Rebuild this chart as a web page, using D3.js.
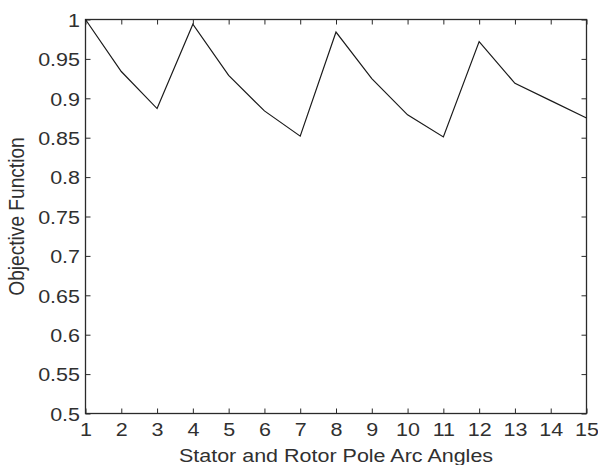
<!DOCTYPE html>
<html><head><meta charset="utf-8">
<script src="https://cdn.jsdelivr.net/npm/d3@7"></script>
<style>html,body{margin:0;padding:0;background:#fff;}svg{display:block;}</style>
</head><body>
<svg id="c" width="598" height="465"></svg>
<script>
const angles = [1,2,3,4,5,6,7,8,9,10,11,12,13,14,15];
const objective = [1.000,0.934,0.887,0.994,0.929,0.884,0.852,0.984,0.925,0.879,0.851,0.972,0.919,0.897,0.875];
const xTicks = [1,2,3,4,5,6,7,8,9,10,11,12,13,14,15];
const yTicks = [0.5,0.55,0.6,0.65,0.7,0.75,0.8,0.85,0.9,0.95,1];
const yTickLabels = ["0.5","0.55","0.6","0.65","0.7","0.75","0.8","0.85","0.9","0.95","1"];
const xTitle = "Stator and Rotor Pole Arc Angles";
const yTitle = "Objective Function";

const L = 85.5, R = 586.5, T = 19.5, B = 413.5;
const FS = 21.5, SQ = 0.89;
const svg = d3.select("#c");
const x = d3.scaleLinear().domain([1,15]).range([L,R]);
const y = d3.scaleLinear().domain([0.5,1]).range([B,T]);
const font = "Liberation Sans, Arial, Helvetica, sans-serif";
const axCol = "#2a2a2a";
const txtCol = "#303030";

function styleAxis(g){
  g.select(".domain").remove();
  g.selectAll(".tick line").attr("stroke", axCol).attr("stroke-width", 1);
  g.selectAll(".tick text").attr("font-family", font).attr("font-size", FS).attr("fill", txtCol);
}
function squish(sel){
  sel.each(function(){
    const t = d3.select(this);
    const ax = +t.attr("x") || 0, ay = +t.attr("y") || 0;
    t.attr("transform", `translate(${ax},${ay}) scale(1,${SQ}) translate(${-ax},${-ay})`);
  });
}

// bottom axis (ticks inward)
const gb = svg.append("g").attr("transform", `translate(0,${B})`)
  .call(d3.axisBottom(x).tickValues(xTicks).tickSizeInner(-5).tickSizeOuter(0).tickFormat(d3.format("d")))
  .call(styleAxis);
gb.selectAll(".tick text").attr("y", 436.5 - B).attr("dy", null).call(squish);
// top axis ticks
svg.append("g").attr("transform", `translate(0,${T})`)
  .call(d3.axisTop(x).tickValues(xTicks).tickSizeInner(-5).tickSizeOuter(0).tickFormat(""))
  .call(styleAxis);
// left axis
const gl = svg.append("g").attr("transform", `translate(${L},0)`)
  .call(d3.axisLeft(y).tickValues(yTicks).tickSizeInner(-5).tickSizeOuter(0).tickFormat((d,i)=>yTickLabels[i]))
  .call(styleAxis);
gl.selectAll(".tick text").attr("x", 80 - L).attr("y", 6.8).attr("dy", null).call(squish);
// right axis ticks
svg.append("g").attr("transform", `translate(${R},0)`)
  .call(d3.axisRight(y).tickValues(yTicks).tickSizeInner(-5).tickSizeOuter(0).tickFormat(""))
  .call(styleAxis);

// frame
svg.append("rect").attr("x", L).attr("y", T).attr("width", R-L).attr("height", B-T)
  .attr("fill", "none").attr("stroke", axCol).attr("stroke-width", 1.3);

// line
const line = d3.line().x((d,i)=>x(angles[i])).y(d=>y(d));
svg.append("path").datum(objective).attr("d", line)
  .attr("fill", "none").attr("stroke", "#1a1a1a").attr("stroke-width", 1.2);

// titles
svg.append("text").attr("x", (L+R)/2).attr("y", 462).attr("text-anchor", "middle")
  .attr("font-family", font).attr("font-size", FS).attr("fill", txtCol).text(xTitle)
  .call(squish);
svg.append("text").attr("transform", `translate(24,${(T+B)/2}) scale(1,${SQ}) rotate(-90)`).attr("text-anchor", "middle")
  .attr("font-family", font).attr("font-size", FS).attr("fill", txtCol).text(yTitle);
</script>
</body></html>
